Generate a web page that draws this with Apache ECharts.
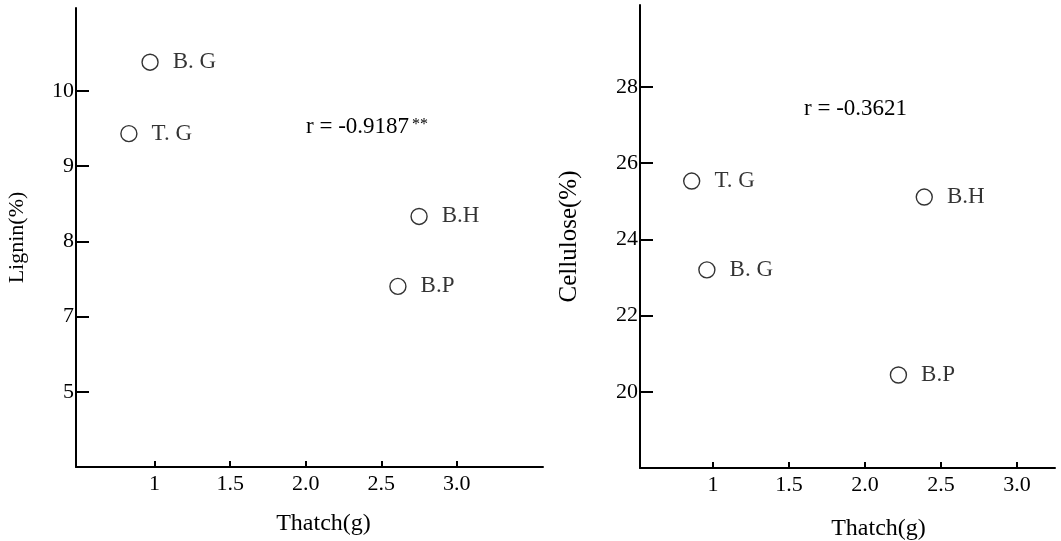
<!DOCTYPE html>
<html>
<head>
<meta charset="utf-8">
<script src="https://cdn.jsdelivr.net/npm/echarts@6/dist/echarts.min.js"></script>
<style>
  html, body { margin: 0; padding: 0; background: #fff; }
  #chart { width: 1061px; height: 541px; }
</style>
</head>
<body>
<div id="chart"></div>
<script>
// left panel: lignin vs thatch
const ligninNames = ["B. G", "T. G", "B.H", "B.P"];
const ligninThatch = [0.97, 0.83, 2.75, 2.61];
const ligninValues = [10.38, 9.43, 8.33, 7.4];
const ligninTickValues = [6, 7, 8, 9, 10];
const ligninTickLabels = ["5", "7", "8", "9", "10"];

// right panel: cellulose vs thatch
const celluloseNames = ["T. G", "B. G", "B.H", "B.P"];
const celluloseThatch = [0.86, 0.96, 2.39, 2.22];
const celluloseValues = [25.53, 23.2, 25.11, 20.44];
const celluloseTickValues = [20, 22, 24, 26, 28];

const thatchTickValues = [1, 1.5, 2, 2.5, 3];
const thatchTickLabels = ["1", "1.5", "2.0", "2.5", "3.0"];

const font = "'Liberation Serif', 'DejaVu Serif', serif";

const toPoints = (names, xs, ys) =>
  names.map((n, i) => ({ name: n, value: [xs[i], ys[i]] }));

const xAxisBase = (gridIndex, min, max, gap, namePad) => ({
  type: "value",
  gridIndex: gridIndex,
  min: min,
  max: max,
  name: "Thatch(g)",
  nameLocation: "middle",
  nameGap: gap,
  nameTextStyle: { fontFamily: font, fontSize: 24, color: "#000", padding: namePad },
  axisLine: { show: true, onZero: false, lineStyle: { color: "#000", width: 2 } },
  axisTick: { show: true, inside: true, length: 6, lineStyle: { color: "#000", width: 2 }, customValues: thatchTickValues },
  axisLabel: {
    fontFamily: font, fontSize: 22, color: "#000", margin: 6,
    customValues: thatchTickValues,
    formatter: (v) => thatchTickLabels[thatchTickValues.indexOf(v)] || "",
  },
  splitLine: { show: false },
});

const yAxisBase = (gridIndex, min, max, name, nameSize, gap, ticks, labels) => ({
  type: "value",
  gridIndex: gridIndex,
  min: min,
  max: max,
  name: name,
  nameLocation: "middle",
  nameRotate: 90,
  nameGap: gap,
  nameTextStyle: { fontFamily: font, fontSize: nameSize, color: "#000" },
  axisLine: { show: true, onZero: false, lineStyle: { color: "#000", width: 2 } },
  axisTick: { show: true, inside: true, length: 13, lineStyle: { color: "#000", width: 2 }, customValues: ticks },
  axisLabel: {
    fontFamily: font, fontSize: 22, color: "#000", margin: 2,
    customValues: ticks,
    formatter: (v) => labels[ticks.indexOf(v)] || "",
  },
  splitLine: { show: false },
});

const scatterBase = (idx, data) => ({
  type: "scatter",
  xAxisIndex: idx,
  yAxisIndex: idx,
  symbol: "circle",
  symbolSize: 16,
  itemStyle: { color: "#fff", borderColor: "#000", borderWidth: 1.4 },
  label: {
    show: true,
    position: "right",
    distance: 14,
    formatter: "{b}",
    fontFamily: font,
    fontSize: 23,
    color: "#000",
  },
  emphasis: { disabled: true },
  data: data,
});

const option = {
  backgroundColor: "#fff",
  animation: false,
  grid: [
    { left: 76, top: 8, width: 467, height: 459, outerBoundsMode: "none" },
    { left: 640, top: 5, width: 415, height: 463, outerBoundsMode: "none" },
  ],
  xAxis: [
    xAxisBase(0, 0.48, 3.57, 45, [0, 0, 0, 28]),
    xAxisBase(1, 0.52, 3.25, 49, [0, 0, 0, 62]),
  ],
  yAxis: [
    yAxisBase(0, 5.0, 11.1, "Lignin(%)", 22, 48, ligninTickValues, ligninTickLabels),
    yAxisBase(1, 18, 30.15, "Cellulose(%)", 25, 58, celluloseTickValues, celluloseTickValues.map(String)),
  ],
  graphic: [
    { type: "text", left: 306, top: 115, style: { text: "r = -0.9187", font: "23px " + font, fill: "#000" } },
    { type: "text", left: 412, top: 117, style: { text: "**", font: "16px " + font, fill: "#000" } },
    { type: "text", left: 804, top: 97, style: { text: "r = -0.3621", font: "23px " + font, fill: "#000" } },
  ],
  series: [
    scatterBase(0, toPoints(ligninNames, ligninThatch, ligninValues)),
    scatterBase(1, toPoints(celluloseNames, celluloseThatch, celluloseValues)),
  ],
};

const chart = echarts.init(document.getElementById("chart"));
chart.setOption(option);
</script>
</body>
</html>
